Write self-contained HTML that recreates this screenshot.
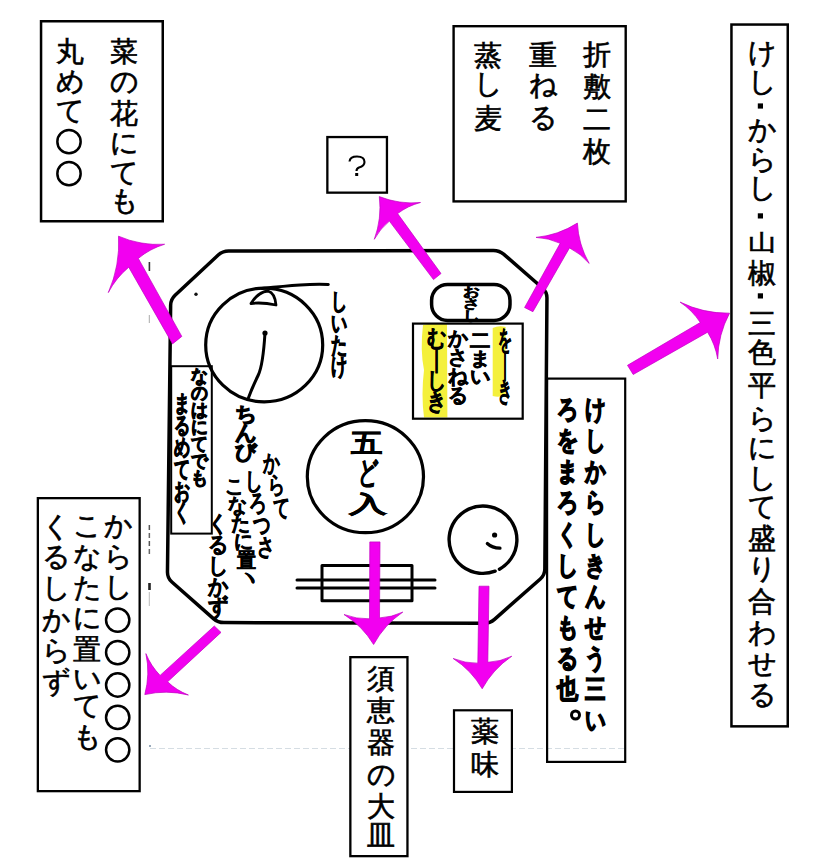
<!DOCTYPE html>
<html><head><meta charset="utf-8"><style>
html,body{margin:0;padding:0;background:#fff;}
body{width:840px;height:865px;position:relative;overflow:hidden;font-family:"Liberation Sans",sans-serif;}
.c{position:absolute;font-size:28px;line-height:28px;width:28px;height:28px;color:#000;white-space:nowrap;-webkit-text-stroke:0.65px #000}
.h{position:absolute;color:#000;white-space:nowrap;font-weight:bold;transform-origin:0 0;-webkit-text-stroke:1.0px #000}
svg{position:absolute;left:0;top:0}
</style></head><body>

<svg width="840" height="865" viewBox="0 0 840 865">
<line x1="150" y1="748.5" x2="626" y2="748.5" stroke="#d5dde3" stroke-width="1" stroke-dasharray="6 3"/>
<rect x="148.6" y="262" width="1.6" height="9" fill="#333"/>
<rect x="148.8" y="315" width="1" height="8" fill="#aaa"/>
<rect x="148.6" y="525" width="1.5" height="5" fill="#555"/>
<rect x="148.6" y="533" width="1.5" height="5" fill="#666"/>
<rect x="148.6" y="541" width="1.5" height="5" fill="#555"/>
<rect x="148.6" y="549" width="1.5" height="5" fill="#666"/>
<rect x="148.2" y="583" width="2.6" height="7" fill="#222"/>
<rect x="148.8" y="592" width="1" height="14" fill="#bbb"/>
<rect x="149" y="745" width="2" height="2" fill="#9ab"/>
<path d="M492.7,328 Q499,325 505.6,327 L505.6,395 Q499,398 492.7,396 Z" fill="#f4f03c"/>
<path d="M423,325 Q434,322 447,324 L447.4,417.5 L424,417.5 Q421,395 424,370 Q420,350 423,325 Z" fill="#f4f03c"/>
<path d="M218.21,255.09 Q222.6,251 228.6,250.99 L493.4,250.41 Q499.4,250.4 503.92,254.35 L542.48,288.05 Q547,292 546.95,298 L544.85,569 Q544.8,575 540.3,578.97 L494.5,619.33 Q490,623.3 484,623.28 L223.9,622.62 Q217.9,622.6 213.4,618.63 L171.9,581.97 Q167.4,578 167.47,572 L170.63,305.3 Q170.7,299.3 175.09,295.21 Z" stroke="#000" fill="none" stroke-linecap="round" stroke-linejoin="round" stroke-width="3.5"/>
<ellipse cx="264.2" cy="345" rx="58.5" ry="56.8" stroke="#000" fill="none" stroke-linecap="round" stroke-linejoin="round" stroke-width="3.2"/>
<path d="M262,288.5 Q285,286 300,285 Q315,284 328.3,284.5" stroke="#000" fill="none" stroke-linecap="round" stroke-linejoin="round" stroke-width="3"/>
<path d="M251,303.5 Q258,292 268,291 Q275,293 276,305 Q262,302 251,303.5 Z" stroke="#000" fill="none" stroke-linecap="round" stroke-linejoin="round" stroke-width="2.8"/>
<path d="M265,333 Q263,365 258.3,375 Q252,388 248.3,398.3" stroke="#000" fill="none" stroke-linecap="round" stroke-linejoin="round" stroke-width="3"/>
<circle cx="265" cy="333" r="2.6" fill="#000"/>
<ellipse cx="365.4" cy="476.7" rx="58.1" ry="56" stroke="#000" fill="none" stroke-linecap="round" stroke-linejoin="round" stroke-width="3.2"/>
<path d="M495.15,571.16 A33.9,33.7 0 1 1 499.44,569.17" stroke="#000" fill="none" stroke-linecap="round" stroke-linejoin="round" stroke-width="3.4"/>
<circle cx="494.6" cy="535" r="2.6" fill="#000"/>
<path d="M487.3,543.5 Q492,548 500,548.2" stroke="#000" fill="none" stroke-linecap="round" stroke-linejoin="round" stroke-width="3.2"/>
<rect x="322" y="565.5" width="90" height="35.3" stroke="#000" fill="none" stroke-linecap="round" stroke-linejoin="round" stroke-width="3"/>
<line x1="297" y1="580" x2="435" y2="580" stroke="#000" fill="none" stroke-linecap="round" stroke-linejoin="round" stroke-width="3"/>
<line x1="297" y1="588" x2="435" y2="588" stroke="#000" fill="none" stroke-linecap="round" stroke-linejoin="round" stroke-width="3"/>
<rect x="431.6" y="284.4" width="78.4" height="36.1" rx="16" stroke="#000" fill="none" stroke-linecap="round" stroke-linejoin="round" stroke-width="3.5"/>
<rect x="413" y="323.6" width="109.7" height="95.1" fill="none" stroke="#000" stroke-width="2.2"/>
<rect x="171.2" y="366.2" width="40.6" height="167.4" fill="none" stroke="#000" stroke-width="2"/>
<rect x="547.1" y="378.6" width="78.1" height="383.3" fill="none" stroke="#000" stroke-width="2.2"/>
<rect x="41.05" y="21.25" width="121.7" height="200" fill="#fff" stroke="#000" stroke-width="2.5"/>
<rect x="327.35" y="137.05" width="59.6" height="55.6" fill="#fff" stroke="#000" stroke-width="2.3"/>
<rect x="453.6" y="26.2" width="172.1" height="175.2" fill="#fff" stroke="#000" stroke-width="2.4"/>
<rect x="731.45" y="24.55" width="56.3" height="701.8" fill="#fff" stroke="#000" stroke-width="2.5"/>
<rect x="37.85" y="498.15" width="101.8" height="293" fill="#fff" stroke="#000" stroke-width="2.3"/>
<rect x="350.35" y="657.15" width="57.1" height="199" fill="#fff" stroke="#000" stroke-width="2.3"/>
<rect x="454" y="710.3" width="57.9" height="81.6" fill="#fff" stroke="#000" stroke-width="2.2"/>
<path d="M349.5,161.5 Q350,156.5 357,156.5 Q364.5,156.5 364.5,162 Q364.5,166 359,167.5 Q356.5,168.5 356.5,171" stroke="#000" fill="none" stroke-width="2.1"/>
<rect x="355.2" y="173" width="3" height="3" fill="#000"/>
<path d="M118.5,236.2 Q140.58,245.76 164.6,244.25 Q150.03,248.69 138.3,258.4 L181.8,336.4 L172.5,343.9 L128.75,267.2 Q115.98,277.85 108.3,292.6 Q120.17,265.62 118.5,236.2 Z" fill="#f200f0" stroke="#c000c0" stroke-width="0.7" stroke-linejoin="miter"/>
<path d="M379.3,196.6 Q399.19,204.49 420.5,202.5 Q407.94,205.76 397.6,213.6 L441,273.5 L433.5,279.6 L389.4,221.1 Q380.03,228.69 374.3,239.3 Q381.92,218.55 379.3,196.6 Z" fill="#f200f0" stroke="#c000c0" stroke-width="0.7" stroke-linejoin="miter"/>
<path d="M577.4,223.1 Q558.42,235.22 536,237.4 Q548.69,237.93 560.2,243.3 L524.6,307.5 L532.9,311.7 L569.5,247.9 Q580.9,253.68 589.2,263.4 Q578.46,244.67 577.4,223.1 Z" fill="#f200f0" stroke="#c000c0" stroke-width="0.7" stroke-linejoin="miter"/>
<path d="M729.5,313.2 Q703.47,313.58 680.1,302.1 Q692.24,310.28 700.3,322.5 L627.5,365.3 L633.2,374.5 L707.6,332.2 Q715.33,344.59 717.7,359 Q718.1,334.68 729.5,313.2 Z" fill="#f200f0" stroke="#c000c0" stroke-width="0.7" stroke-linejoin="miter"/>
<path d="M144.8,694.6 Q150.27,674.23 145.9,653.6 Q150.82,665.92 160.1,675.4 L214.3,626 L221,632.4 L167.6,681.8 Q176.68,690.48 188.4,695 Q166.65,689.57 144.8,694.6 Z" fill="#f200f0" stroke="#c000c0" stroke-width="0.7" stroke-linejoin="miter"/>
<path d="M373.6,644.5 Q362.4,625.95 344,614.5 Q356.32,619.2 369.5,618.8 L369.8,541.9 L380,541.9 L379.5,617.9 Q391.73,617.33 402.8,612.1 Q384.31,624.8 373.6,644.5 Z" fill="#f200f0" stroke="#c000c0" stroke-width="0.7" stroke-linejoin="miter"/>
<path d="M482.2,688.75 Q471.33,670.14 453.2,658.5 Q465.03,663.31 477.8,663.2 L479,586.2 L489,586.2 L487.8,662.3 Q500.38,661.67 511.75,656.25 Q493.08,668.95 482.2,688.75 Z" fill="#f200f0" stroke="#c000c0" stroke-width="0.7" stroke-linejoin="miter"/>
<circle cx="575.5" cy="715" r="4" fill="none" stroke="#000" stroke-width="3"/>
<circle cx="69" cy="141.7" r="11.65" fill="none" stroke="#000" stroke-width="2.5"/>
<circle cx="69" cy="173.7" r="11.65" fill="none" stroke="#000" stroke-width="2.5"/>
<circle cx="117.7" cy="620.1" r="11.65" fill="none" stroke="#000" stroke-width="2.5"/>
<circle cx="117.7" cy="652.6" r="11.65" fill="none" stroke="#000" stroke-width="2.5"/>
<circle cx="117.7" cy="685" r="11.65" fill="none" stroke="#000" stroke-width="2.5"/>
<circle cx="117.7" cy="717.4" r="11.65" fill="none" stroke="#000" stroke-width="2.5"/>
<circle cx="117.7" cy="749.8" r="11.65" fill="none" stroke="#000" stroke-width="2.5"/>
<rect x="757.8" y="103.4" width="5.2" height="5.2" fill="#000"/>
<rect x="757.8" y="213.3" width="5.2" height="5.2" fill="#000"/>
<rect x="757.8" y="293.3" width="5.2" height="5.2" fill="#000"/>
<circle cx="196" cy="294.2" r="1.7" fill="#111"/>
</svg>
<div class="c" style="left:110.3px;top:38.3px">菜</div>
<div class="c" style="left:110.3px;top:67.5px">の</div>
<div class="c" style="left:110.3px;top:99.5px">花</div>
<div class="c" style="left:110.3px;top:129.1px">に</div>
<div class="c" style="left:110.3px;top:158.7px">て</div>
<div class="c" style="left:110.3px;top:187px">も</div>
<div class="c" style="left:56px;top:38.1px">丸</div>
<div class="c" style="left:56px;top:67.8px">め</div>
<div class="c" style="left:56px;top:96.8px">て</div>
<div class="c" style="left:582.7px;top:40.8px">折</div>
<div class="c" style="left:582.7px;top:73.2px">敷</div>
<div class="c" style="left:582.7px;top:105.5px">二</div>
<div class="c" style="left:582.7px;top:138px">枚</div>
<div class="c" style="left:528.5px;top:42.3px">重</div>
<div class="c" style="left:528.5px;top:71.2px">ね</div>
<div class="c" style="left:528.5px;top:104px">る</div>
<div class="c" style="left:473.9px;top:41.8px">蒸</div>
<div class="c" style="left:473.9px;top:70.1px">し</div>
<div class="c" style="left:473.9px;top:105.1px">麦</div>
<div class="c" style="left:747.5px;top:39px">け</div>
<div class="c" style="left:747.5px;top:67.5px">し</div>
<div class="c" style="left:747.5px;top:115.9px">か</div>
<div class="c" style="left:747.5px;top:145.5px">ら</div>
<div class="c" style="left:747.5px;top:174px">し</div>
<div class="c" style="left:747.5px;top:228.5px;transform:scaleY(0.78)">山</div>
<div class="c" style="left:747.5px;top:260.1px">椒</div>
<div class="c" style="left:747.5px;top:309.5px">三</div>
<div class="c" style="left:747.5px;top:339px">色</div>
<div class="c" style="left:747.5px;top:371.5px">平</div>
<div class="c" style="left:747.5px;top:404.7px">ら</div>
<div class="c" style="left:747.5px;top:433.5px">に</div>
<div class="c" style="left:747.5px;top:464px">し</div>
<div class="c" style="left:747.5px;top:493px">て</div>
<div class="c" style="left:747.5px;top:524.5px">盛</div>
<div class="c" style="left:747.5px;top:555px">り</div>
<div class="c" style="left:747.5px;top:588px">合</div>
<div class="c" style="left:747.5px;top:618.5px">わ</div>
<div class="c" style="left:747.5px;top:649.5px">せ</div>
<div class="c" style="left:747.5px;top:680.5px">る</div>
<div class="c" style="left:104.4px;top:512px">か</div>
<div class="c" style="left:104.4px;top:543px">ら</div>
<div class="c" style="left:104.4px;top:572.5px">し</div>
<div class="c" style="left:73.1px;top:511.7px">こ</div>
<div class="c" style="left:73.1px;top:542.5px">な</div>
<div class="c" style="left:73.1px;top:573.5px">た</div>
<div class="c" style="left:73.1px;top:604px">に</div>
<div class="c" style="left:73.1px;top:635.8px">置</div>
<div class="c" style="left:73.1px;top:665px">い</div>
<div class="c" style="left:73.1px;top:691.5px">て</div>
<div class="c" style="left:73.1px;top:722.7px">も</div>
<div class="c" style="left:41.5px;top:513px">く</div>
<div class="c" style="left:41.5px;top:543px">る</div>
<div class="c" style="left:41.5px;top:573.5px">し</div>
<div class="c" style="left:41.5px;top:606.3px">か</div>
<div class="c" style="left:41.5px;top:637px">ら</div>
<div class="c" style="left:41.5px;top:668px">ず</div>
<div class="c" style="left:367.1px;top:665px">須</div>
<div class="c" style="left:367.1px;top:697px">恵</div>
<div class="c" style="left:367.1px;top:728.5px">器</div>
<div class="c" style="left:367.1px;top:760.5px">の</div>
<div class="c" style="left:367.1px;top:793.3px">大</div>
<div class="c" style="left:367.1px;top:822.3px">皿</div>
<div class="c" style="left:471.1px;top:718.1px">薬</div>
<div class="c" style="left:471.1px;top:750.8px">味</div>
<div class="h" style="left:330.77px;top:290.18px;font-size:23.39px;line-height:23.39px;transform:scale(0.7,1)">し</div>
<div class="h" style="left:330.77px;top:311.93px;font-size:23.39px;line-height:23.39px;transform:scale(0.7,1)">い</div>
<div class="h" style="left:330.77px;top:333.68px;font-size:23.39px;line-height:23.39px;transform:scale(0.7,1)">た</div>
<div class="h" style="left:330.77px;top:355.43px;font-size:23.39px;line-height:23.39px;transform:scale(0.7,1)">け</div>
<div class="h" style="left:190.8px;top:367.36px;font-size:18.28px;line-height:18.28px;transform:scale(0.93,1)">な</div>
<div class="h" style="left:190.8px;top:384.36px;font-size:18.28px;line-height:18.28px;transform:scale(0.93,1)">の</div>
<div class="h" style="left:190.8px;top:401.36px;font-size:18.28px;line-height:18.28px;transform:scale(0.93,1)">は</div>
<div class="h" style="left:190.8px;top:418.36px;font-size:18.28px;line-height:18.28px;transform:scale(0.93,1)">に</div>
<div class="h" style="left:190.8px;top:435.36px;font-size:18.28px;line-height:18.28px;transform:scale(0.93,1)">て</div>
<div class="h" style="left:190.8px;top:452.36px;font-size:18.28px;line-height:18.28px;transform:scale(0.93,1)">で</div>
<div class="h" style="left:190.8px;top:469.36px;font-size:18.28px;line-height:18.28px;transform:scale(0.93,1)">も</div>
<div class="h" style="left:173.77px;top:392.18px;font-size:23.48px;line-height:23.48px;transform:scale(0.7,1)">ま</div>
<div class="h" style="left:173.77px;top:414.01px;font-size:23.48px;line-height:23.48px;transform:scale(0.7,1)">る</div>
<div class="h" style="left:173.77px;top:435.84px;font-size:23.48px;line-height:23.48px;transform:scale(0.7,1)">め</div>
<div class="h" style="left:173.77px;top:457.68px;font-size:23.48px;line-height:23.48px;transform:scale(0.7,1)">て</div>
<div class="h" style="left:173.77px;top:479.51px;font-size:23.48px;line-height:23.48px;transform:scale(0.7,1)">お</div>
<div class="h" style="left:173.77px;top:501.34px;font-size:23.48px;line-height:23.48px;transform:scale(0.7,1)">く</div>
<div class="h" style="left:234.58px;top:403.98px;font-size:20.54px;line-height:20.54px;transform:scale(1.02,1)">ち</div>
<div class="h" style="left:234.58px;top:423.08px;font-size:20.54px;line-height:20.54px;transform:scale(1.02,1)">ん</div>
<div class="h" style="left:234.58px;top:442.18px;font-size:20.54px;line-height:20.54px;transform:scale(1.02,1)">び</div>
<div class="h" style="left:262.61px;top:451.16px;font-size:24.01px;line-height:24.01px;transform:scale(0.7,1);-webkit-text-stroke:0.5px #000">か</div>
<div class="h" style="left:267.61px;top:473.49px;font-size:24.01px;line-height:24.01px;transform:scale(0.7,1);-webkit-text-stroke:0.5px #000">ら</div>
<div class="h" style="left:272.61px;top:495.83px;font-size:24.01px;line-height:24.01px;transform:scale(0.7,1);-webkit-text-stroke:0.5px #000">て</div>
<div class="h" style="left:244.84px;top:470.17px;font-size:23.66px;line-height:23.66px;transform:scale(0.73,1);-webkit-text-stroke:0.6px #000">し</div>
<div class="h" style="left:248.84px;top:492.17px;font-size:23.66px;line-height:23.66px;transform:scale(0.73,1);-webkit-text-stroke:0.6px #000">ろ</div>
<div class="h" style="left:252.84px;top:514.17px;font-size:23.66px;line-height:23.66px;transform:scale(0.73,1);-webkit-text-stroke:0.6px #000">つ</div>
<div class="h" style="left:256.84px;top:536.17px;font-size:23.66px;line-height:23.66px;transform:scale(0.73,1);-webkit-text-stroke:0.6px #000">さ</div>
<div class="h" style="left:224.59px;top:477.31px;font-size:19.71px;line-height:19.71px;transform:scale(0.95,1);-webkit-text-stroke:0.6px #000">こ</div>
<div class="h" style="left:227.59px;top:495.64px;font-size:19.71px;line-height:19.71px;transform:scale(0.95,1);-webkit-text-stroke:0.6px #000">な</div>
<div class="h" style="left:230.59px;top:513.98px;font-size:19.71px;line-height:19.71px;transform:scale(0.95,1);-webkit-text-stroke:0.6px #000">た</div>
<div class="h" style="left:233.59px;top:532.31px;font-size:19.71px;line-height:19.71px;transform:scale(0.95,1);-webkit-text-stroke:0.6px #000">に</div>
<div class="h" style="left:236.59px;top:550.64px;font-size:19.71px;line-height:19.71px;transform:scale(0.95,1);-webkit-text-stroke:0.6px #000">置</div>
<div class="h" style="left:239.59px;top:568.98px;font-size:19.71px;line-height:19.71px;transform:scale(0.95,1);-webkit-text-stroke:0.6px #000">ヽ</div>
<div class="h" style="left:208.34px;top:513.22px;font-size:22.37px;line-height:22.37px;transform:scale(0.91,1);-webkit-text-stroke:0.6px #000">く</div>
<div class="h" style="left:208.34px;top:534.02px;font-size:22.37px;line-height:22.37px;transform:scale(0.91,1);-webkit-text-stroke:0.6px #000">る</div>
<div class="h" style="left:208.34px;top:554.82px;font-size:22.37px;line-height:22.37px;transform:scale(0.91,1);-webkit-text-stroke:0.6px #000">し</div>
<div class="h" style="left:208.34px;top:575.62px;font-size:22.37px;line-height:22.37px;transform:scale(0.91,1);-webkit-text-stroke:0.6px #000">か</div>
<div class="h" style="left:208.34px;top:596.42px;font-size:22.37px;line-height:22.37px;transform:scale(0.91,1);-webkit-text-stroke:0.6px #000">ず</div>
<div class="h" style="left:351.4px;top:430.79px;font-size:25.91px;line-height:25.91px;transform:scale(1.21,1);-webkit-text-stroke:0.5px #000">五</div>
<div class="h" style="left:358.3px;top:457.23px;font-size:30.54px;line-height:30.54px;transform:scale(0.65,1);-webkit-text-stroke:0.5px #000">ど</div>
<div class="h" style="left:349.45px;top:493.39px;font-size:23.23px;line-height:23.23px;transform:scale(1.66,1);-webkit-text-stroke:0.2px #000">入</div>
<div class="h" style="left:585.28px;top:397.1px;font-size:25.81px;line-height:25.81px;transform:scale(0.79,1);-webkit-text-stroke:1.5px #000">け</div>
<div class="h" style="left:585.28px;top:428.2px;font-size:25.81px;line-height:25.81px;transform:scale(0.79,1);-webkit-text-stroke:1.5px #000">し</div>
<div class="h" style="left:585.28px;top:459.3px;font-size:25.81px;line-height:25.81px;transform:scale(0.79,1);-webkit-text-stroke:1.5px #000">か</div>
<div class="h" style="left:585.28px;top:490.4px;font-size:25.81px;line-height:25.81px;transform:scale(0.79,1);-webkit-text-stroke:1.5px #000">ら</div>
<div class="h" style="left:585.28px;top:521.5px;font-size:25.81px;line-height:25.81px;transform:scale(0.79,1);-webkit-text-stroke:1.5px #000">し</div>
<div class="h" style="left:585.28px;top:552.6px;font-size:25.81px;line-height:25.81px;transform:scale(0.79,1);-webkit-text-stroke:1.5px #000">き</div>
<div class="h" style="left:585.28px;top:583.7px;font-size:25.81px;line-height:25.81px;transform:scale(0.79,1);-webkit-text-stroke:1.5px #000">ん</div>
<div class="h" style="left:585.28px;top:614.8px;font-size:25.81px;line-height:25.81px;transform:scale(0.79,1);-webkit-text-stroke:1.5px #000">せ</div>
<div class="h" style="left:585.28px;top:645.9px;font-size:25.81px;line-height:25.81px;transform:scale(0.79,1);-webkit-text-stroke:1.5px #000">う</div>
<div class="h" style="left:585.28px;top:677px;font-size:25.81px;line-height:25.81px;transform:scale(0.79,1);-webkit-text-stroke:1.5px #000">三</div>
<div class="h" style="left:585.28px;top:708.1px;font-size:25.81px;line-height:25.81px;transform:scale(0.79,1);-webkit-text-stroke:1.5px #000">い</div>
<div class="h" style="left:556.78px;top:397.1px;font-size:25.81px;line-height:25.81px;transform:scale(0.81,1);-webkit-text-stroke:1.5px #000">ろ</div>
<div class="h" style="left:556.78px;top:428.2px;font-size:25.81px;line-height:25.81px;transform:scale(0.81,1);-webkit-text-stroke:1.5px #000">を</div>
<div class="h" style="left:556.78px;top:459.3px;font-size:25.81px;line-height:25.81px;transform:scale(0.81,1);-webkit-text-stroke:1.5px #000">ま</div>
<div class="h" style="left:556.78px;top:490.4px;font-size:25.81px;line-height:25.81px;transform:scale(0.81,1);-webkit-text-stroke:1.5px #000">ろ</div>
<div class="h" style="left:556.78px;top:521.5px;font-size:25.81px;line-height:25.81px;transform:scale(0.81,1);-webkit-text-stroke:1.5px #000">く</div>
<div class="h" style="left:556.78px;top:552.6px;font-size:25.81px;line-height:25.81px;transform:scale(0.81,1);-webkit-text-stroke:1.5px #000">し</div>
<div class="h" style="left:556.78px;top:583.7px;font-size:25.81px;line-height:25.81px;transform:scale(0.81,1);-webkit-text-stroke:1.5px #000">て</div>
<div class="h" style="left:556.78px;top:614.8px;font-size:25.81px;line-height:25.81px;transform:scale(0.81,1);-webkit-text-stroke:1.5px #000">も</div>
<div class="h" style="left:556.78px;top:645.9px;font-size:25.81px;line-height:25.81px;transform:scale(0.81,1);-webkit-text-stroke:1.5px #000">る</div>
<div class="h" style="left:556.78px;top:677px;font-size:25.81px;line-height:25.81px;transform:scale(0.81,1);-webkit-text-stroke:1.5px #000">也</div>
<div class="h" style="left:497.73px;top:326.05px;font-size:27.24px;line-height:27.24px;transform:scale(0.52,1);-webkit-text-stroke:0.6px #000">を</div>
<div class="h" style="left:497.73px;top:351.38px;font-size:27.24px;line-height:27.24px;transform:scale(0.52,1);-webkit-text-stroke:0.6px #000">｜</div>
<div class="h" style="left:497.73px;top:376.71px;font-size:27.24px;line-height:27.24px;transform:scale(0.52,1);-webkit-text-stroke:0.6px #000">き</div>
<div class="h" style="left:470.34px;top:331.13px;font-size:19.07px;line-height:19.07px;transform:scale(1.07,1);-webkit-text-stroke:0.6px #000">二</div>
<div class="h" style="left:470.34px;top:348.87px;font-size:19.07px;line-height:19.07px;transform:scale(1.07,1);-webkit-text-stroke:0.6px #000">ま</div>
<div class="h" style="left:470.34px;top:366.6px;font-size:19.07px;line-height:19.07px;transform:scale(1.07,1);-webkit-text-stroke:0.6px #000">い</div>
<div class="h" style="left:447.74px;top:327.78px;font-size:20.46px;line-height:20.46px;transform:scale(0.99,1);-webkit-text-stroke:0.6px #000">か</div>
<div class="h" style="left:447.74px;top:346.81px;font-size:20.46px;line-height:20.46px;transform:scale(0.99,1);-webkit-text-stroke:0.6px #000">さ</div>
<div class="h" style="left:447.74px;top:365.83px;font-size:20.46px;line-height:20.46px;transform:scale(0.99,1);-webkit-text-stroke:0.6px #000">ね</div>
<div class="h" style="left:447.74px;top:384.86px;font-size:20.46px;line-height:20.46px;transform:scale(0.99,1);-webkit-text-stroke:0.6px #000">る</div>
<div class="h" style="left:426.61px;top:327.71px;font-size:22.63px;line-height:22.63px;transform:scale(0.83,1);-webkit-text-stroke:0.6px #000">む</div>
<div class="h" style="left:426.61px;top:348.76px;font-size:22.63px;line-height:22.63px;transform:scale(0.83,1);-webkit-text-stroke:0.6px #000">｜</div>
<div class="h" style="left:426.61px;top:369.81px;font-size:22.63px;line-height:22.63px;transform:scale(0.83,1);-webkit-text-stroke:0.6px #000">し</div>
<div class="h" style="left:426.61px;top:390.86px;font-size:22.63px;line-height:22.63px;transform:scale(0.83,1);-webkit-text-stroke:0.6px #000">き</div>
<div class="h" style="left:462.97px;top:286.05px;font-size:12.72px;line-height:12.72px;transform:scale(1.29,1);-webkit-text-stroke:0.6px #000">お</div>
<div class="h" style="left:462.97px;top:297.89px;font-size:12.72px;line-height:12.72px;transform:scale(1.29,1);-webkit-text-stroke:0.6px #000">さ</div>
<div class="h" style="left:462.97px;top:309.72px;font-size:12.72px;line-height:12.72px;transform:scale(1.29,1);-webkit-text-stroke:0.6px #000">し</div>
</body></html>
